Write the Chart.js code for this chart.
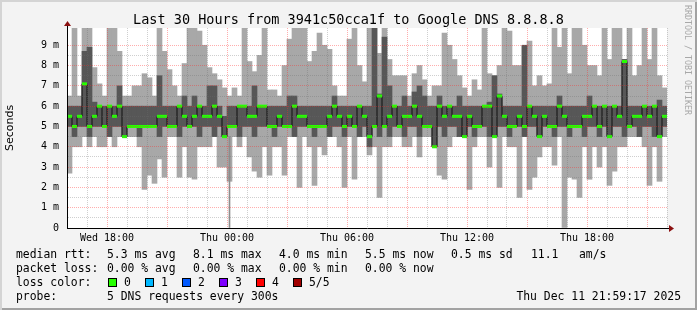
<!DOCTYPE html>
<html>
<head>
<meta charset="utf-8">
<script src="https://cdn.jsdelivr.net/npm/chart.js@4.4.0/dist/chart.umd.min.js"></script>
<style>
html, body { margin: 0; padding: 0; background: #f3f3f3; }
#wrap { position: relative; width: 697px; height: 310px; background: #f3f3f3; overflow: hidden;
  box-shadow: inset 2px 2px 0 #d4d4d4, inset -2px -2px 0 #a2a2a2; }
#c { position: absolute; left: 0; top: 0; }
.t { position: absolute; font-family: "DejaVu Sans Mono", monospace; font-size: 11.4px; line-height: 14px; white-space: pre; color: #000; }
.title { left: 0; width: 697px; text-align: center; top: 10px; font-size: 13.5px; line-height: 18px; }
.rrd { position: absolute; left: 683px; top: 5px; writing-mode: vertical-rl; font-family: "DejaVu Sans Mono", monospace; font-size: 8.3px; color: #a8a8a8; white-space: pre; }
.sw { position: absolute; width: 7px; height: 7px; border: 1px solid #000; top: 278px; }
</style>
</head>
<body>
<div id="wrap">
  <canvas id="c" width="697" height="310"></canvas>
  <div class="t title">Last 30 Hours from 3941c50cca1f to Google DNS 8.8.8.8</div>
  <div class="rrd">RRDTOOL / TOBI OETIKER</div>
</div>
<script>
// 15 minute columns, hour 0 = Wed 16:00
const hoursPerCol = 0.25;

// light smoke: min and max ping (ms)
const smokeLo = [
  2.7, 4.0, 4.0, 4.5, 4.0, 4.5, 4.0, 4.0, 4.5, 4.0, 4.5, 4.5, 4.5, 4.5, 4.0, 1.9, 2.6, 2.2, 3.4, 2.5,
  4.5, 4.5, 2.5, 4.0, 2.5, 2.4, 4.0, 4.0, 4.0, 4.5, 3.0, 3.0, 2.3, 4.5, 4.0, 4.5, 3.5, 2.8, 2.5, 4.0,
  2.6, 4.0, 4.0, 2.6, 4.5, 4.5, 2.0, 4.5, 4.0, 2.1, 4.0, 3.6, 4.5, 4.5, 4.0, 2.0, 4.5, 2.4, 4.5, 4.5,
  3.6, 4.0, 1.5, 4.0, 4.0, 4.5, 4.5, 4.0, 4.0, 4.5, 3.5, 4.5, 4.5, 4.0, 2.6, 2.4, 4.0, 4.5, 4.5, 4.5,
  1.9, 4.0, 4.5, 4.5, 3.0, 4.5, 2.0, 4.5, 4.0, 4.0, 1.5, 4.5, 1.9, 2.5, 3.5, 4.0, 4.0, 3.1, 4.5, 0.0,
  2.5, 2.4, 1.5, 4.0, 2.4, 4.0, 3.0, 4.0, 2.1, 2.8, 4.0, 4.0, 4.5, 4.5, 4.5, 4.0, 2.1, 4.0, 2.3, 4.5
];
const smokeHi = [
  6.5, 9.85, 6.5, 9.85, 9.85, 7.9, 7.1, 6.5, 9.85, 9.85, 8.7, 6.5, 6.5, 7.0, 7.0, 7.6, 7.4, 6.5, 9.85, 8.7,
  7.8, 7.0, 6.5, 8.1, 9.85, 9.85, 9.7, 9.0, 7.9, 7.6, 7.3, 6.9, 6.5, 6.9, 6.5, 9.85, 8.2, 7.7, 8.5, 9.85,
  6.8, 6.8, 6.5, 8.0, 9.3, 9.85, 9.85, 9.85, 8.2, 8.7, 9.6, 9.0, 8.8, 7.0, 6.5, 6.5, 9.3, 9.85, 8.0, 7.2,
  9.85, 9.85, 8.6, 9.85, 8.3, 7.5, 7.5, 7.5, 6.5, 7.6, 8.0, 7.3, 6.5, 7.0, 7.0, 9.6, 9.0, 8.3, 7.5, 6.9,
  6.5, 7.3, 6.8, 9.85, 7.6, 7.5, 8.0, 9.85, 9.7, 8.0, 8.0, 9.0, 9.2, 7.0, 7.5, 7.0, 7.1, 9.85, 8.9, 9.85,
  7.6, 9.85, 9.85, 9.0, 8.0, 8.0, 7.5, 9.85, 8.3, 9.85, 9.85, 8.3, 9.85, 7.5, 8.0, 9.85, 8.3, 9.85, 7.5, 6.9
];
// dark smoke: 2nd and 4th ping (ms)
const innerLo = [
  5.0, 4.5, 5.0, 5.0, 4.5, 5.0, 5.0, 5.0, 4.5, 5.0, 5.0, 4.5, 5.0, 5.0, 4.5, 5.0, 5.0, 5.0, 4.5, 5.0,
  5.0, 5.0, 4.5, 5.0, 5.0, 5.0, 4.5, 5.0, 5.0, 4.5, 5.0, 4.5, 5.0, 5.0, 4.5, 5.0, 5.0, 4.5, 5.0, 5.0,
  5.0, 4.5, 5.0, 5.0, 5.0, 4.5, 5.0, 5.0, 5.0, 4.5, 5.0, 5.0, 4.5, 5.0, 5.0, 4.5, 5.0, 5.0, 4.5, 5.0,
  4.0, 5.0, 4.5, 5.0, 4.5, 5.0, 5.0, 4.5, 5.0, 5.0, 4.5, 5.0, 5.0, 4.0, 5.0, 4.5, 5.0, 5.0, 4.5, 4.5,
  5.0, 4.5, 5.0, 5.0, 4.5, 4.5, 5.0, 5.0, 4.5, 5.0, 5.0, 4.5, 5.0, 5.0, 4.5, 5.0, 5.0, 4.5, 5.0, 5.0,
  4.5, 5.0, 5.0, 4.5, 5.0, 5.0, 4.5, 5.0, 4.5, 5.0, 5.0, 4.5, 5.0, 5.0, 4.5, 5.0, 5.0, 4.5, 4.5, 5.0
];
const innerHi = [
  6.0, 6.0, 6.0, 8.7, 8.9, 6.2, 6.0, 6.0, 6.0, 6.0, 7.0, 6.0, 6.0, 6.0, 6.0, 6.0, 6.0, 6.0, 7.5, 6.0,
  6.0, 6.0, 6.0, 6.5, 6.0, 6.5, 6.0, 6.0, 7.0, 7.0, 6.0, 5.5, 6.0, 6.0, 6.0, 6.0, 6.0, 7.0, 6.0, 6.0,
  6.0, 6.0, 6.0, 6.0, 6.5, 6.5, 6.0, 6.0, 6.0, 6.0, 6.0, 6.0, 6.0, 6.5, 6.0, 6.0, 6.0, 6.0, 6.0, 6.0,
  6.0, 9.85, 6.6, 9.4, 7.0, 6.0, 6.0, 6.5, 6.0, 6.7, 7.0, 6.5, 6.0, 6.0, 6.5, 6.0, 6.0, 6.0, 6.5, 6.0,
  6.0, 6.0, 6.0, 6.0, 6.2, 7.5, 6.6, 6.0, 6.0, 6.0, 6.0, 9.0, 6.0, 6.0, 6.0, 6.0, 6.0, 6.0, 6.5, 6.0,
  6.0, 6.0, 6.0, 6.0, 6.5, 6.0, 6.0, 6.0, 6.0, 6.0, 6.0, 8.3, 6.0, 6.0, 6.0, 6.0, 6.0, 6.0, 6.3, 6.0
];
// median rtt (ms)
const medianRtt = [
  5.5, 5.0, 5.5, 7.1, 5.0, 5.5, 6.0, 5.0, 6.0, 5.5, 6.0, 4.5, 5.0, 5.0, 5.0, 5.0, 5.0, 5.0, 5.5, 5.5,
  5.0, 5.0, 6.0, 5.5, 5.0, 5.5, 6.0, 5.5, 5.5, 6.0, 5.5, 4.5, 5.0, 5.0, 6.0, 6.0, 5.5, 5.5, 6.0, 6.0,
  5.0, 5.0, 5.5, 5.0, 5.0, 6.0, 5.5, 5.5, 5.0, 5.0, 5.0, 5.0, 5.5, 6.0, 5.5, 5.0, 5.5, 5.0, 6.0, 5.5,
  4.5, 5.0, 6.5, 5.0, 5.5, 6.0, 5.0, 5.5, 5.5, 6.0, 5.5, 5.0, 5.0, 4.0, 6.0, 5.5, 6.0, 5.5, 5.5, 4.5,
  5.5, 5.0, 5.0, 6.0, 6.0, 4.5, 6.5, 5.5, 5.0, 5.0, 5.5, 5.0, 6.0, 5.5, 4.5, 5.5, 5.0, 5.0, 6.0, 5.5,
  5.0, 5.0, 5.0, 5.5, 5.5, 6.0, 5.0, 6.0, 4.5, 6.0, 5.5, 8.2, 5.0, 5.5, 5.5, 6.0, 5.5, 6.0, 4.5, 5.5
];
// single thin outliers: [column, low ms, high ms]
const thinSpikes = [[32, 0.0, 4.5]];

const xTickHours = [2, 8, 14, 20, 26];
const xTickLabels = ['Wed 18:00', 'Thu 00:00', 'Thu 06:00', 'Thu 12:00', 'Thu 18:00'];

const rttRow = [[16, 'median rtt:'], [107, '5.3 ms avg'], [193, '8.1 ms max'], [279, '4.0 ms min'],
  [365, '5.5 ms now'], [451, '0.5 ms sd'], [531, '11.1'], [579, 'am/s']];
const lossRow = [[16, 'packet loss:'], [107, '0.00 % avg'], [193, '0.00 % max'], [279, '0.00 % min'], [365, '0.00 % now']];
const lossNames = ['0', '1', '2', '3', '4', '5/5'];
const lossColors = ['#26ff00', '#00b8ff', '#0059ff', '#7e00ff', '#ff0000', '#a10000'];

// --- text rows under the graph ---
const wrap = document.getElementById('wrap');
function addText(x, y, s, right) {
  const d = document.createElement('div');
  d.className = 't';
  d.textContent = s;
  d.style.top = y + 'px';
  if (right) d.style.right = (697 - x) + 'px'; else d.style.left = x + 'px';
  wrap.appendChild(d);
}
rttRow.forEach(r => addText(r[0], 247, r[1]));
lossRow.forEach(r => addText(r[0], 261, r[1]));
addText(16, 275, 'loss color:');
lossNames.forEach((n, i) => {
  const sw = document.createElement('div');
  sw.className = 'sw';
  sw.style.left = (108 + i * 37) + 'px';
  sw.style.background = lossColors[i];
  wrap.appendChild(sw);
  addText(124 + i * 37, 275, n);
});
addText(16, 289, 'probe:');
addText(107, 289, '5 DNS requests every 300s');
addText(681, 289, 'Thu Dec 11 21:59:17 2025', true);

// --- chart ---
const colX = i => (i + 0.5) * hoursPerCol;
const RED = 'rgba(255,40,40,0.38)';
const GREY = 'rgba(110,110,110,0.33)';

const plotBg = {
  id: 'plotBg',
  beforeDraw(chart) {
    const a = chart.chartArea, ctx = chart.ctx;
    ctx.save();
    ctx.fillStyle = '#ffffff';
    ctx.fillRect(a.left, a.top, a.right - a.left, a.bottom - a.top);
    ctx.restore();
  }
};
const arrows = {
  id: 'arrows',
  afterDraw(chart) {
    const a = chart.chartArea, ctx = chart.ctx;
    ctx.save();
    ctx.strokeStyle = '#000';
    ctx.lineWidth = 1;
    ctx.beginPath();
    ctx.moveTo(a.left + 0.5, a.top); ctx.lineTo(a.left + 0.5, a.top - 3);
    ctx.moveTo(a.right, a.bottom + 0.5); ctx.lineTo(a.right + 3, a.bottom + 0.5);
    ctx.stroke();
    ctx.fillStyle = '#8b1010';
    ctx.beginPath();
    ctx.moveTo(a.left + 0.5, a.top - 7); ctx.lineTo(a.left - 3, a.top - 2); ctx.lineTo(a.left + 4, a.top - 2);
    ctx.closePath(); ctx.fill();
    ctx.beginPath();
    ctx.moveTo(a.right + 7, a.bottom + 0.5); ctx.lineTo(a.right + 2, a.bottom - 3); ctx.lineTo(a.right + 2, a.bottom + 4);
    ctx.closePath(); ctx.fill();
    ctx.restore();
  }
};

function gridColor(ctx, isMajor) {
  if (!ctx.tick) return 'transparent';
  const v = ctx.tick.value;
  if (v === 0) return 'transparent';
  return isMajor(v) ? RED : GREY;
}

new Chart(document.getElementById('c'), {
  data: {
    datasets: [
      {
        type: 'line',
        data: medianRtt.map((v, i) => ({ x: colX(i), y: v })),
        stepped: 'middle',
        borderColor: '#111111',
        borderWidth: 1,
        pointStyle: 'line',
        pointRadius: 2.5,
        pointBorderWidth: 3,
        pointBorderColor: lossColors[0],
        order: 0
      },
      {
        type: 'bar',
        data: thinSpikes.map(s => ({ x: colX(s[0]), y: [s[1], s[2]] })),
        backgroundColor: '#8c8c8c',
        barThickness: 1,
        grouped: false,
        order: 1
      },
      {
        type: 'bar',
        data: innerLo.map((v, i) => ({ x: colX(i), y: [v, innerHi[i]] })),
        backgroundColor: '#575757',
        barPercentage: 1, categoryPercentage: 1,
        grouped: false,
        order: 2
      },
      {
        type: 'bar',
        data: smokeLo.map((v, i) => ({ x: colX(i), y: [v, smokeHi[i]] })),
        backgroundColor: '#a8a8a8',
        barPercentage: 1, categoryPercentage: 1,
        grouped: false,
        order: 3
      }
    ]
  },
  options: {
    responsive: false,
    animation: false,
    events: [],
    layout: { padding: { left: 0, top: 28, right: 30, bottom: 62 } },
    plugins: { legend: { display: false }, tooltip: { enabled: false } },
    scales: {
      x: {
        type: 'linear', min: 0, max: 30, offset: false, z: 1,
        afterFit: s => { s.height = 20; },
        grid: { z: 1, offset: false, drawTicks: false, lineWidth: 1,
          color: c => gridColor(c, v => (v - 2) % 3 === 0) },
        border: { z: 2, color: '#000', width: 1, dash: [1, 1] },
        ticks: {
          stepSize: 1, autoSkip: false, maxRotation: 0, padding: 4, color: '#000',
          font: { family: 'DejaVu Sans Mono', size: 10 },
          callback: v => { const k = xTickHours.indexOf(v); return k >= 0 ? xTickLabels[k] : ''; }
        }
      },
      y: {
        type: 'linear', min: 0, max: 9.85, z: 1,
        afterFit: s => { s.width = 67; },
        afterBuildTicks: s => { s.ticks = s.ticks.filter(t => Math.abs(t.value * 2 - Math.round(t.value * 2)) < 1e-6); },
        grid: { z: 1, drawTicks: false, lineWidth: 1,
          color: c => gridColor(c, v => Number.isInteger(v)) },
        border: { z: 2, color: '#000', width: 1, dash: [1, 1] },
        title: { display: true, text: 'Seconds', color: '#000',
          font: { family: 'DejaVu Sans', size: 11 }, padding: { top: 4, bottom: 0 } },
        ticks: {
          stepSize: 0.5, autoSkip: false, padding: 8, color: '#000',
          font: { family: 'DejaVu Sans Mono', size: 10 },
          callback: v => Number.isInteger(v) ? (v === 0 ? '0' : v + ' m') : ''
        }
      }
    }
  },
  plugins: [plotBg, arrows]
});
</script>
</body>
</html>
